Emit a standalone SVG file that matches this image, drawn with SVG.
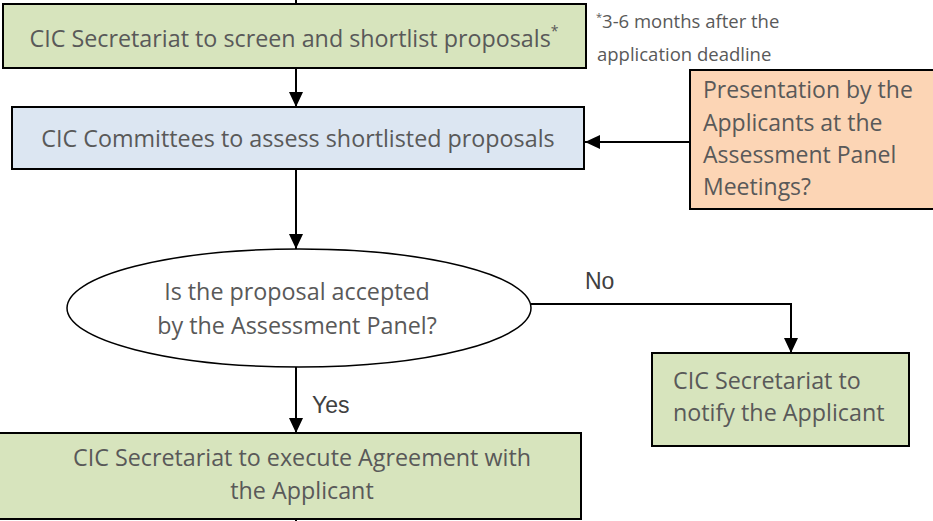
<svg xmlns="http://www.w3.org/2000/svg" width="933" height="521" viewBox="0 0 933 521">
<style>
.box{stroke:#000;stroke-width:2}
.green{fill:#d7e4bd}
.blue{fill:#dce6f2}
.orange{fill:#fcd5b5}
.t{font-family:"Open Sans","Liberation Sans",sans-serif;font-size:23.3px;fill:#595959}
.c{text-anchor:middle}
.fn{font-family:"Open Sans","Liberation Sans",sans-serif;font-size:18.5px;fill:#595959}
.lbl{font-family:"Liberation Sans",Arial,sans-serif;font-size:23px;fill:#404040}
.conn{fill:none;stroke:#000;stroke-width:2}
</style>
<defs>
<marker id="arr" markerUnits="userSpaceOnUse" markerWidth="15" markerHeight="14" refX="15" refY="7" orient="auto">
<path d="M0,0 L15,7 L0,14 z" fill="#000"/>
</marker>
</defs>
<g id="connectors">
<line class="conn" x1="296" y1="0" x2="296" y2="4"/>
<line class="conn" x1="296" y1="68" x2="296" y2="107" marker-end="url(#arr)"/>
<line class="conn" x1="690" y1="142" x2="585" y2="142" marker-end="url(#arr)"/>
<line class="conn" x1="296" y1="169" x2="296" y2="249" marker-end="url(#arr)"/>
<polyline class="conn" points="531,304 791,304 791,353" marker-end="url(#arr)"/>
<line class="conn" x1="296" y1="367" x2="296" y2="433" marker-end="url(#arr)"/>
<line class="conn" x1="296" y1="516" x2="296" y2="521"/>
<text class="lbl" x="585" y="289">No</text>
<text class="lbl" x="312" y="413">Yes</text>
</g>
<g id="screen">
<rect class="box green" x="3" y="4" width="583" height="64"/>
<text class="t c" x="294" y="47">CIC Secretariat to screen and shortlist proposals<tspan font-size="14" dy="-11">*</tspan></text>
</g>
<g id="footnote">
<text class="fn" x="596" y="28"><tspan font-size="11" dy="-7">*</tspan><tspan dy="7">3-6 months after the</tspan></text>
<text class="fn" x="597" y="61">application deadline</text>
</g>
<g id="assess">
<rect class="box blue" x="12" y="107" width="572" height="62"/>
<text class="t c" x="298" y="147">CIC Committees to assess shortlisted proposals</text>
</g>
<g id="presentation">
<rect class="box orange" x="690" y="70" width="246" height="139"/>
<text class="t" style="font-size:23px" x="703" y="98">Presentation by the</text>
<text class="t" style="font-size:23px" x="703" y="131">Applicants at the</text>
<text class="t" style="font-size:23px" x="703" y="163">Assessment Panel</text>
<text class="t" style="font-size:23px" x="703" y="195">Meetings?</text>
</g>
<g id="decision">
<ellipse cx="299" cy="308" rx="232" ry="59" fill="#fff" stroke="#000" stroke-width="1.5"/>
<text class="t c" x="297" y="300">Is the proposal accepted</text>
<text class="t c" x="297" y="334">by the Assessment Panel?</text>
</g>
<g id="notify">
<rect class="box green" x="652" y="353" width="257" height="93"/>
<text class="t" x="673" y="389">CIC Secretariat to</text>
<text class="t" x="673" y="421">notify the Applicant</text>
</g>
<g id="execute">
<rect class="box green" x="-2" y="433" width="583" height="86"/>
<text class="t c" x="302" y="466">CIC Secretariat to execute Agreement with</text>
<text class="t c" x="302" y="499">the Applicant</text>
</g>
</svg>
